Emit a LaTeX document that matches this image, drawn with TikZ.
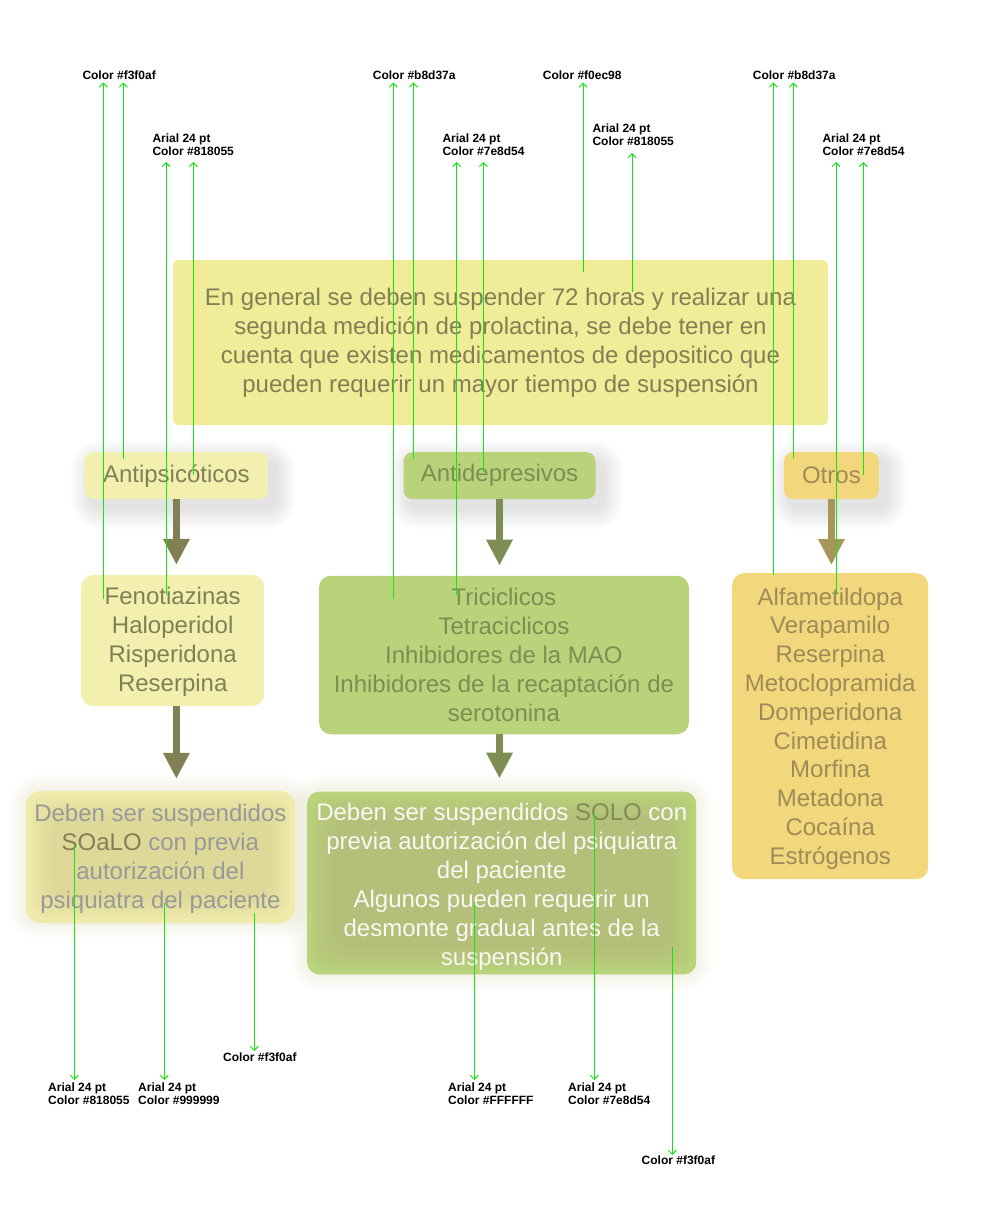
\documentclass[tikz,border=0pt]{standalone}
\usepackage{fontspec}
\setmainfont{Liberation Sans}
\usetikzlibrary{arrows.meta}
\pgfdeclarelayer{bg}
\pgfsetlayers{bg,main}
\definecolor{cTop}{HTML}{F0EC98}
\definecolor{cYel}{HTML}{F3F0AF}
\definecolor{cGrn}{HTML}{B8D37A}
\definecolor{cOra}{HTML}{F3D77C}
\definecolor{cBl}{HTML}{F0EBAA}
\definecolor{dBl}{HTML}{DBD495}
\definecolor{dBm}{HTML}{B6B97A}
\definecolor{tOl}{HTML}{818055}
\definecolor{tGr}{HTML}{7E8D54}
\definecolor{tBr}{HTML}{9E8B57}
\definecolor{aBr}{HTML}{A8955A}
\definecolor{gry}{HTML}{999999}
\definecolor{wht}{HTML}{F8F8F4}
\definecolor{glw}{HTML}{B4B490}
\definecolor{anno}{RGB}{20,230,20}
\newcommand\bigtxt{\fontsize{24}{29}\selectfont}
\newcommand\lblfont{\bfseries\fontsize{12}{13.5}\selectfont}
\tikzset{
  box/.style={rounded corners=#1, inner sep=0pt, align=center, font=\bigtxt},
  txt/.style={inner sep=0pt, align=center, font=\bigtxt},
  lbl/.style={font=\lblfont, align=left, inner sep=0pt, text=black},
  ann/.style={draw=anno, line width=1pt, -{Straight Barb[length=4pt,width=8pt]}},
  bigarrow/.style={line width=7pt, -{Triangle[length=26pt,width=25pt]}}
}
\begin{document}
\begin{tikzpicture}[x=1pt,y=-1pt]
\begin{pgfonlayer}{bg}
\fill[white] (0,0) rectangle (1000,1222);
\end{pgfonlayer}
\useasboundingbox (0,0) rectangle (1000,1222);

% main boxes
\node[box=6pt, fill=cTop, text=tOl, minimum width=655pt, minimum height=165pt] (top) at (500.5,342.5)
  {En general se deben suspender 72 horas y realizar una\\segunda medición de prolactina, se debe tener en\\cuenta que existen medicamentos de depositico que\\pueden requerir un mayor tiempo de suspensión};
\node[box=9pt, fill=cYel, text=tOl, minimum width=183pt, minimum height=47pt] (anti) at (176.4,475.7) {Antipsicóticos};
\node[box=9pt, fill=cGrn, text=tGr, minimum width=192pt, minimum height=47pt] (adep) at (499.5,475.7) {Antidepresivos};
\node[box=9pt, fill=cOra, text=tBr, minimum width=95pt, minimum height=47pt] (otro) at (831.4,475.7) {Otros};
\node[box=12pt, fill=cYel, text=tOl, minimum width=183pt, minimum height=131pt] (feno) at (172.7,640.5) {};
\node[txt, text=tOl] (fenotxt) at (172.7,642) {Fenotiazinas\\Haloperidol\\Risperidona\\Reserpina};
\node[box=12pt, fill=cGrn, text=tGr, minimum width=370pt, minimum height=158.5pt] (tric) at (503.9,655)
  {Triciclicos\\Tetraciclicos\\Inhibidores de la MAO\\Inhibidores de la recaptación de\\serotonina};
\node[box=12pt, fill=cOra, minimum width=196pt, minimum height=306pt] (list) at (830.2,726.2) {};
\node[txt, text=tBr, font=\fontsize{24}{28.8}\selectfont] (listtxt) at (830.2,728.5)
  {Alfametildopa\\Verapamilo\\Reserpina\\Metoclopramida\\Domperidona\\Cimetidina\\Morfina\\Metadona\\Cocaína\\Estrógenos};

% bottom boxes
\node[box=15pt, fill=cBl, minimum width=269pt, minimum height=132pt] (bl) at (160.4,857) {};
\node[box=12pt, fill=cGrn, minimum width=389pt, minimum height=182.6pt] (bm) at (501.7,883) {};
\foreach \i in {1,...,16}{
  \fill[dBl, opacity=0.05, rounded corners=16pt] ([shift={(3+\i*1.5,3+\i*1.5)}]bl.north west) rectangle ([shift={(-3-\i*1.5,-3-\i*1.5)}]bl.south east);
  \fill[dBm, opacity=0.05, rounded corners=16pt] ([shift={(3+\i*1.5,3+\i*1.5)}]bm.north west) rectangle ([shift={(-3-\i*1.5,-3-\i*1.5)}]bm.south east);
}
\node[txt, text=gry] (bltxt) at ([yshift=-2pt]bl.center) {Deben ser suspendidos\\\textcolor{tOl}{SOaLO} con previa\\autorización del\\psiquiatra del paciente};
\node[txt, text=wht] (bmtxt) at ([yshift=-4pt]bm.center) {Deben ser suspendidos \textcolor{tGr}{SOLO} con\\previa autorización del psiquiatra\\del paciente\\Algunos pueden requerir un\\desmonte gradual antes de la\\suspensión};

% shadows
\begin{pgfonlayer}{bg}
\foreach \n in {anti,adep,otro}{
  \foreach \i in {1,...,14}{
    \pgfmathsetmacro\s{\i*1.5}
    \pgfmathsetmacro\r{9+\i*1.5}
    \fill[black, opacity=0.008, rounded corners=\r pt] ([shift={(7-\s,9-\s)}]\n.north west) rectangle ([shift={(7+\s,9+\s)}]\n.south east);
  }
}
\foreach \n in {bl,bm}{
  \foreach \i in {1,...,12}{
    \pgfmathsetmacro\s{\i*1.4}
    \pgfmathsetmacro\r{14+\i*1.4}
    \fill[glw, opacity=0.012, rounded corners=\r pt] ([shift={(-\s,-\s)}]\n.north west) rectangle ([shift={(\s,\s)}]\n.south east);
  }
}
\end{pgfonlayer}

% big arrows
\draw[bigarrow, tOl] (anti.south) -- ([yshift=10pt]anti.south |- feno.north);
\draw[bigarrow, tOl] (anti.south |- feno.south) -- ([yshift=12pt]anti.south |- bl.north);
\draw[bigarrow, tGr] (adep.south) -- ([yshift=10pt]adep.south |- tric.north);
\draw[bigarrow, tGr] (adep.south |- tric.south) -- ([yshift=13pt]adep.south |- bm.north);
\draw[bigarrow, aBr] (otro.south) -- ([yshift=8pt]otro.south |- list.north);

% annotation labels
\node[lbl, anchor=base west] (L1) at (82.3,79.5) {Color \#f3f0af};
\node[lbl, anchor=north west] (L2) at (152.3,133.3) {Arial 24 pt\\Color \#818055};
\node[lbl, anchor=base west] (M1) at (372.7,79.5) {Color \#b8d37a};
\node[lbl, anchor=north west] (M2) at (442.3,133.3) {Arial 24 pt\\Color \#7e8d54};
\node[lbl, anchor=base west] (C1) at (542.7,79.5) {Color \#f0ec98};
\node[lbl, anchor=north west] (C2) at (592.3,123.6) {Arial 24 pt\\Color \#818055};
\node[lbl, anchor=base west] (R1) at (752.7,79.5) {Color \#b8d37a};
\node[lbl, anchor=north west] (R2) at (822.3,133.3) {Arial 24 pt\\Color \#7e8d54};
\node[lbl, anchor=north west] (B1) at (48,1082.3) {Arial 24 pt\\Color \#818055};
\node[lbl, anchor=north west] (B2) at (138,1082.3) {Arial 24 pt\\Color \#999999};
\node[lbl, anchor=base west] (B3) at (223,1061) {Color \#f3f0af};
\node[lbl, anchor=north west] (B4) at (448,1082.3) {Arial 24 pt\\Color \#FFFFFF};
\node[lbl, anchor=north west] (B5) at (568,1082.3) {Arial 24 pt\\Color \#7e8d54};
\node[lbl, anchor=base west] (B6) at (641.5,1164) {Color \#f3f0af};

% annotation anchors
\coordinate (row1) at (0,82.5);
\coordinate (row2) at (0,162);
\coordinate (rowc) at (0,153);
\coordinate (rowb) at (0,1080);
\coordinate (rowbt) at (0,1051);
\coordinate (rowbs) at (0,1155);
\coordinate (a1) at (103.3,599);
\coordinate (a2) at (123.3,459);
\coordinate (a3) at (166,595);
\coordinate (a4) at (193.3,475);
\coordinate (b1) at (393.3,599);
\coordinate (b2) at (413.3,459);
\coordinate (b3) at (456.7,595);
\coordinate (b4) at (483.3,472);
\coordinate (c1) at (583,272);
\coordinate (c2) at (632,292);
\coordinate (d1) at (773.3,575);
\coordinate (d2) at (793.3,459);
\coordinate (d3) at (836,595);
\coordinate (d4) at (863.3,475);
\coordinate (e1) at (74.3,845);
\coordinate (e2) at (164.3,902.7);
\coordinate (e3) at (254.3,913);
\coordinate (e4) at (474.3,902);
\coordinate (e5) at (594.3,813);
\coordinate (e6) at (672.3,946.7);

\foreach \c/\r in {a1/row1,a2/row1,a3/row2,a4/row2,b1/row1,b2/row1,b3/row2,b4/row2,c1/row1,c2/rowc,d1/row1,d2/row1,d3/row2,d4/row2,e1/rowb,e2/rowb,e3/rowbt,e4/rowb,e5/rowb,e6/rowbs}{
  \draw[ann] (\c) -- (\c |- \r);
}
\end{tikzpicture}
\end{document}
